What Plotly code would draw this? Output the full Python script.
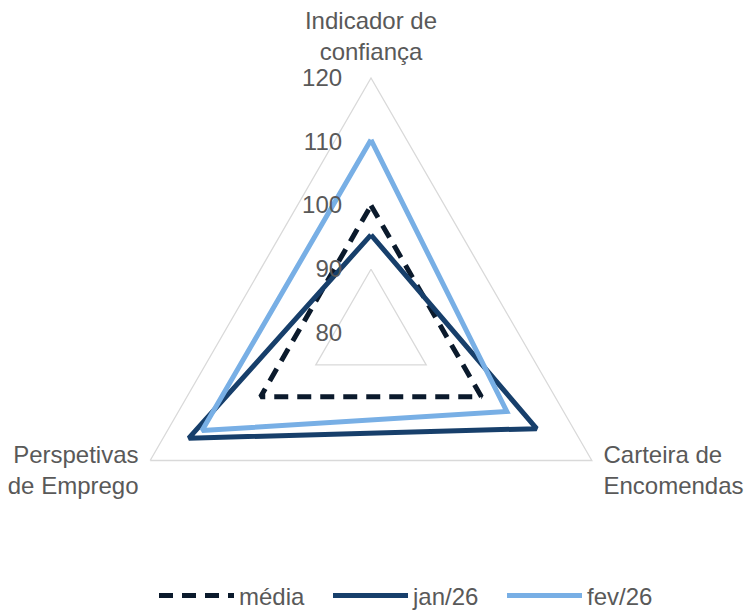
import plotly.graph_objects as go

# Axes of the radar (clockwise from the top); the blank trailing lines
# lift the two lower labels level with their corners
categories = ["Indicador de<br>confiança",
              "Carteira de<br>Encomendas<br> <br> ",
              "Perspetivas<br>de Emprego<br> <br> "]

# Series values
media = [100, 100, 100]
jan26 = [95.4, 110.0, 113.0]
fev26 = [110.3, 104.6, 110.6]

# Radial scale
radial_ticks = [80, 90, 100, 110, 120]
inner_grid = 90

GRID = "#d9d9d9"
TEXT = "#595959"
FONT = "Liberation Sans, Arial, sans-serif"


def closed(vals):
    return vals + vals[:1]


theta = closed(categories)

fig = go.Figure()

# inner grid triangle
fig.add_trace(go.Scatterpolar(
    r=closed([inner_grid] * len(categories)), theta=theta, mode="lines",
    line=dict(color=GRID, width=1.3), showlegend=False, hoverinfo="skip"))

fig.add_trace(go.Scatterpolar(
    r=closed(media), theta=theta, mode="lines", name="média",
    line=dict(color="#0b1a2c", width=5, dash="14px,9px")))
fig.add_trace(go.Scatterpolar(
    r=closed(jan26), theta=theta, mode="lines", name="jan/26",
    line=dict(color="#173f6b", width=5)))
fig.add_trace(go.Scatterpolar(
    r=closed(fev26), theta=theta, mode="lines", name="fev/26",
    line=dict(color="#78afe5", width=5)))

W, H = 744, 611
cx, cy, R = 371, 333, 255

fig.update_layout(
    width=W, height=H,
    margin=dict(l=0, r=0, t=0, b=0, autoexpand=False),
    paper_bgcolor="white", plot_bgcolor="white",
    font=dict(family=FONT, size=24, color=TEXT),
    polar=dict(
        domain=dict(x=[(cx - R) / W, (cx + R) / W],
                    y=[1 - (cy + R) / H, 1 - (cy - R) / H]),
        gridshape="linear",
        bgcolor="white",
        radialaxis=dict(
            range=[80, 120], tickvals=radial_ticks, angle=90,
            showgrid=False, showline=False,
            ticks="outside", ticklen=20, tickcolor="rgba(0,0,0,0)",
            tickangle=90, side="counterclockwise",
            tickfont=dict(size=24, color=TEXT)),
        angularaxis=dict(
            direction="clockwise", rotation=90,
            showgrid=False, showline=True, linecolor=GRID, linewidth=1.3,
            ticks="outside", ticklen=8, tickcolor="rgba(0,0,0,0)",
            tickfont=dict(size=24, color=TEXT)),
    ),
    legend=dict(orientation="h", x=0.207, xanchor="left", y=-0.012, yanchor="bottom",
                font=dict(size=24, color=TEXT), itemwidth=75,
                entrywidth=84, entrywidthmode="pixels"),
)

fig.write_html("out.html")
